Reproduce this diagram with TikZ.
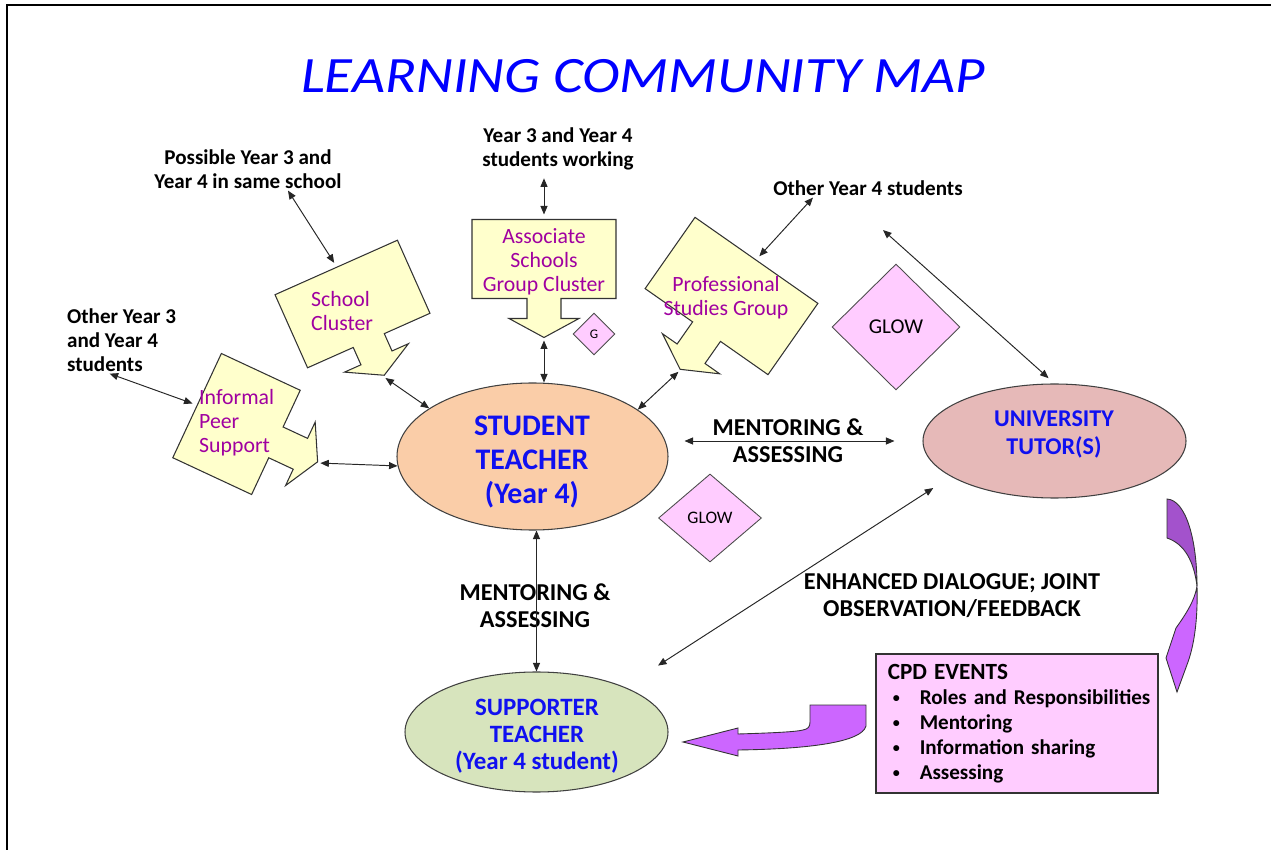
\documentclass[tikz,border=0pt]{standalone}
\usepackage{fontspec}
\setmainfont{Carlito}
\usepackage{xcolor}
\usetikzlibrary{arrows.meta,shapes.geometric}

\definecolor{calloutfill}{HTML}{FFFFCC}
\definecolor{callouttext}{HTML}{A000A0}
\definecolor{glowfill}{HTML}{FFCCFF}
\definecolor{studentfill}{HTML}{FACDA8}
\definecolor{tutorfill}{HTML}{E6B9B8}
\definecolor{supporterfill}{HTML}{D7E4BD}
\definecolor{cpdarrow}{HTML}{CC66FF}
\definecolor{cpdarrowdark}{HTML}{A352CC}
\definecolor{titleblue}{HTML}{0000FF}
\definecolor{roleblue}{HTML}{1010F0}

% box with a down arrow under it; the scope turns and places it
% #1 name, #2 centre, #3 angle, #4 width, #5 height, #6 arrow length
\newcommand{\calloutbox}[6]{%
  \begin{scope}[shift={#2}, rotate=#3]
    \draw[callbox] (-#4/2,-#5/2) -- (#4/2,-#5/2) -- (#4/2,#5/2)
      -- (17,#5/2) -- (17,#5/2+#6-19) -- (35,#5/2+#6-19) -- (0,#5/2+#6)
      -- (-35,#5/2+#6-19) -- (-17,#5/2+#6-19) -- (-17,#5/2)
      -- (-#4/2,#5/2) -- cycle;
    \coordinate (#1-back) at (0,-#5/2-5);
    \coordinate (#1-tip) at (0,#5/2+#6+3);
  \end{scope}}

\newcommand{\cpditem}[1]{\hspace*{2.4mm}\makebox[5.4mm][l]{\raisebox{0.15ex}{\fontsize{8}{8}\selectfont\textbullet}}\mbox{#1}}

\begin{document}
\begin{tikzpicture}[x=0.2mm, y=-0.2mm,
    callbox/.style={draw=black!80, line width=0.6pt, fill=calloutfill},
    callouttxt/.style={font=\fontsize{12.4}{13.7}\selectfont, text=callouttext},
    note/.style={font=\fontsize{12}{13.7}\selectfont\bfseries, align=center, inner sep=1pt},
    bignote/.style={font=\fontsize{13.8}{15.4}\selectfont\bfseries, align=center, inner sep=1pt},
    role/.style={ellipse, draw=black!75, line width=0.6pt, inner sep=0pt},
    roletxt/.style={text=roleblue, align=center, inner sep=0pt},
    glow/.style={diamond, draw=black!70, line width=0.5pt, fill=glowfill, inner sep=0pt},
    link/.style={<->, >={Triangle[length=1.7mm, width=1.4mm]}, line width=0.55pt, draw=black!85},
    purplearrow/.style={draw=black!80, line width=0.5pt}]

  \useasboundingbox (0,0) rectangle (1271,850);
  \draw[line width=1pt] (7,850) -- (7,5) -- (1271,5);

  \node[font=\fontsize{29}{32}\selectfont\itshape, text=titleblue, xscale=1.12] (title) at (643,76) {LEARNING COMMUNITY MAP};

  % the four groups round the student
  \calloutbox{sc}{(352.5,304)}{24}{134}{80}{38}
  \calloutbox{asgc}{(544,259)}{0}{144}{79}{39}
  \calloutbox{psg}{(731.5,296)}{-35}{150}{87}{46}
  \calloutbox{ips}{(236.5,424)}{65}{115}{87}{46}

  \node[callouttxt, align=left, anchor=west] (sc-text) at (305,311) {School\\Cluster};
  \node[callouttxt, align=center] (asgc-text) at (544,262) {Associate\\Schools\\Group Cluster};
  \node[callouttxt, align=center] (psg-text) at (726,298) {Professional\\Studies Group};
  \node[callouttxt, align=left, anchor=west] (ips-text) at (193,423) {Informal\\Peer\\Support};

  % people
  \node[role, fill=studentfill, minimum width=54.2mm, minimum height=29.4mm] (st) at (532.5,456.5) {};
  \node[role, fill=tutorfill, minimum width=52.6mm, minimum height=22.8mm] (tut) at (1054.5,441) {};
  \node[role, fill=supporterfill, minimum width=52.6mm, minimum height=24mm] (sup) at (536.5,732) {};
  \node[roletxt, font=\fontsize{17}{19.3}\selectfont\bfseries] (st-text) at (532,462) {STUDENT\\TEACHER\\(Year 4)};
  \node[roletxt, font=\fontsize{13.7}{15.9}\selectfont\bfseries] (tut-text) at (1054,434) {UNIVERSITY\\TUTOR(S)};
  \node[roletxt, font=\fontsize{14.2}{15.4}\selectfont\bfseries] (sup-text) at (537,736) {SUPPORTER\\TEACHER\\(Year 4 student)};

  \node[glow, minimum width=25.6mm, minimum height=25.2mm, font=\fontsize{12}{14}\selectfont] (glow-big) at (896,327) {GLOW};
  \node[glow, minimum width=20.6mm, minimum height=17.6mm, font=\fontsize{10}{12}\selectfont] (glow-small) at (710,518) {GLOW};
  \node[glow, minimum width=8.4mm, minimum height=8.4mm, font=\fontsize{7.5}{9}\selectfont] (glow-g) at (594,334) {G};

  % outside groups
  \node[note] (possible) at (248,169) {Possible Year 3 and\\Year 4 in same school};
  \node[note] (yr34) at (558,149) {Year 3 and Year 4\\students working};
  \node[note] (oy4) at (868,188) {Other Year 4 students};
  \node[note, align=left, anchor=west] (oy3) at (65,340) {Other Year 3\\and Year 4\\students};
  \coordinate (oy4-link) at (883,230);

  \node[bignote] (mentor-h) at (788,441) {MENTORING \&\\ASSESSING};
  \node[bignote] (mentor-v) at (535,606) {MENTORING \&\\ASSESSING};
  \node[bignote] (dialogue) at (952,596) {ENHANCED DIALOGUE; JOINT\\OBSERVATION/FEEDBACK};

  \node[draw=black!80, line width=0.7pt, fill=glowfill, text width=54.5mm, minimum height=27.8mm,
        inner xsep=0.95mm, align=left, font=\fontsize{12}{14.2}\selectfont\bfseries] (cpd) at (1017,723.5)
    {\hspace*{1.4mm}{\fontsize{13.2}{14.2}\selectfont CPD EVENTS}\\\cpditem{Roles and Responsibilities}\\\cpditem{Mentoring}\\\cpditem{Information sharing}\\\cpditem{Assessing}};

  % links
  \draw[link] ([xshift=8mm]possible.south) -- (sc-back);
  \draw[link] (sc-tip) -- (st.155);
  \draw[link, shorten <=1.2mm] (yr34.south -| asgc-back) -- (asgc-back);
  \draw[link] (asgc-tip) -- (asgc-tip |- st.north);
  \draw[link] ([xshift=-11mm]oy4.south) -- (psg-back);
  \draw[link] (psg-tip) -- (st.24);
  \draw[link] ([xshift=-2.4mm]oy3.south) -- (ips-back);
  \draw[link] (ips-tip) -- (st.184);
  \draw[link, shorten <=3.2mm, shorten >=5.6mm] (st.east |- tut.west) -- (tut.west);
  \draw[link, shorten >=1.6mm] (oy4-link) -- (tut.north);
  \draw[link, shorten <=4.2mm, shorten >=7.9mm] (tut.199) -- (sup.27);
  \draw[link] (st.south -| sup.north) -- (sup.north);

  % purple arrows from the CPD events
  \draw[purplearrow, fill=cpdarrowdark] (1167,499) .. controls (1186,500) and (1197,540) .. (1197,586)
    .. controls (1194,562) and (1185,544) .. (1167,538) -- cycle;
  \draw[purplearrow, fill=cpdarrow] (1197,586) .. controls (1198,620) and (1194,645) .. (1188,662)
    -- (1177,692) -- (1166,658) -- (1176,628) .. controls (1186,614) and (1195,600) .. (1197,586) -- cycle;
  \draw[purplearrow, fill=cpdarrow] (683,742) -- (738,728) -- (738,734)
    .. controls (770,733) and (795,732) .. (803,730) .. controls (808,729) and (810,727) .. (810,722)
    -- (810,705) -- (866,705) -- (866,726) .. controls (862,742) and (810,749) .. (738,750)
    -- (738,756) -- cycle;
\end{tikzpicture}
\end{document}
